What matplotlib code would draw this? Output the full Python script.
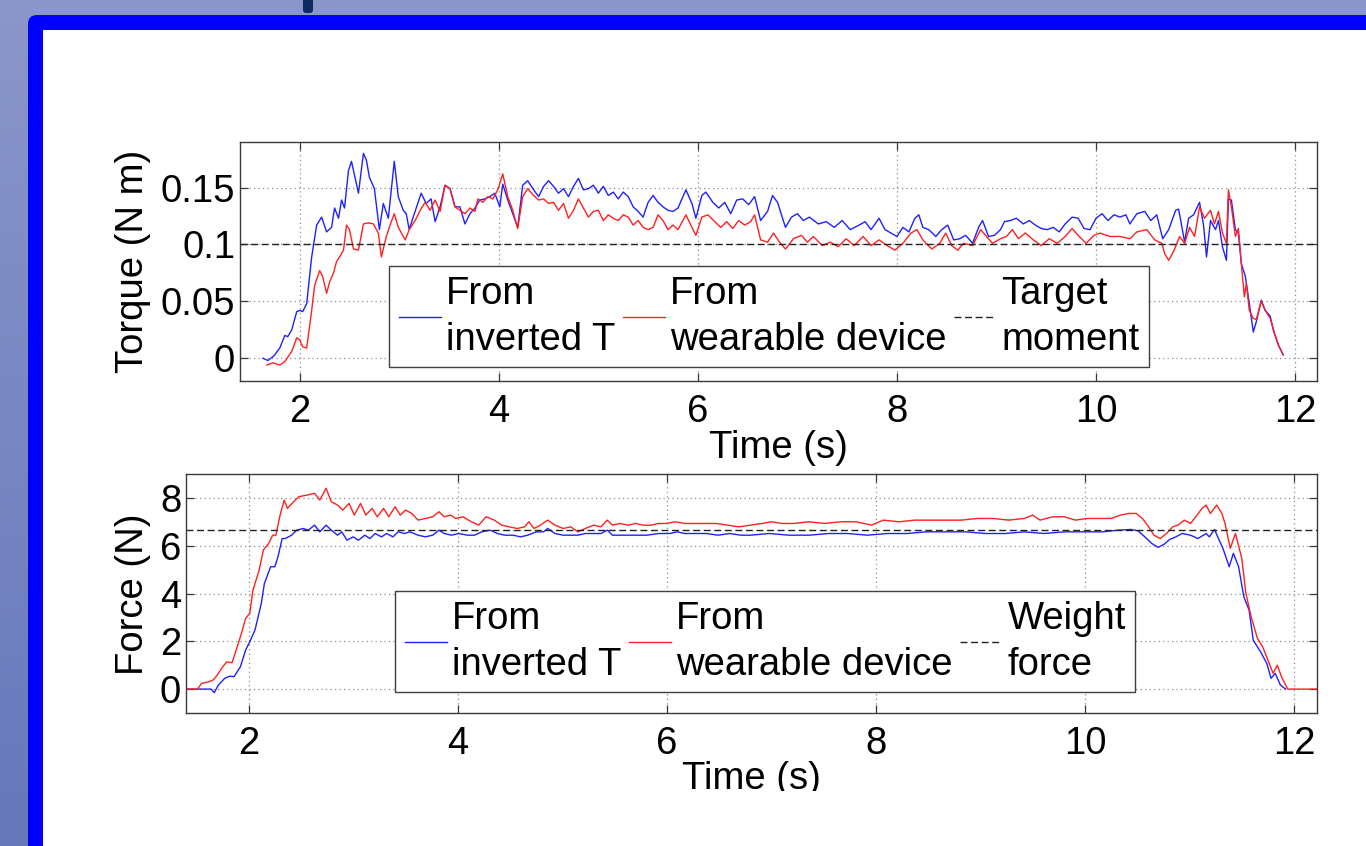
import numpy as np
import matplotlib
matplotlib.use("Agg")
import matplotlib.pyplot as plt
from matplotlib.patches import FancyBboxPatch, Rectangle
from matplotlib.lines import Line2D
from matplotlib.ticker import FuncFormatter
from matplotlib.transforms import Bbox, TransformedBbox

# ---------------- data ----------------
torque_inv_t = [1.63, 1.68, 1.74, 1.80, 1.85, 1.88, 1.92, 1.97, 2.00, 2.03, 2.07, 2.12, 2.17, 2.22, 2.27,
                2.32, 2.35, 2.39, 2.42, 2.45, 2.49, 2.52, 2.55, 2.59, 2.64, 2.67, 2.70, 2.75, 2.80, 2.84,
                2.89, 2.95, 2.99, 3.04, 3.07, 3.10, 3.14, 3.19, 3.22, 3.27, 3.32, 3.36, 3.41, 3.46, 3.51,
                3.56, 3.61, 3.66, 3.71, 3.76, 3.81, 3.86, 3.91, 3.96, 4.01, 4.04, 4.09, 4.14, 4.19, 4.24,
                4.29, 4.35, 4.40, 4.45, 4.50, 4.55, 4.60, 4.65, 4.70, 4.75, 4.80, 4.85, 4.90, 4.95, 5.00,
                5.05, 5.10, 5.15, 5.20, 5.25, 5.30, 5.35, 5.40, 5.45, 5.50, 5.55, 5.60, 5.65, 5.70, 5.75,
                5.80, 5.88, 5.94, 5.98, 6.04, 6.08, 6.15, 6.21, 6.27, 6.33, 6.39, 6.45, 6.51, 6.57, 6.63,
                6.70, 6.75, 6.80, 6.88, 6.94, 7.00, 7.06, 7.12, 7.21, 7.29, 7.37, 7.45, 7.53, 7.62, 7.68,
                7.74, 7.82, 7.88, 7.94, 8.00, 8.06, 8.12, 8.18, 8.22, 8.26, 8.32, 8.39, 8.45, 8.51, 8.57,
                8.63, 8.69, 8.76, 8.82, 8.86, 8.92, 8.98, 9.04, 9.08, 9.14, 9.20, 9.27, 9.33, 9.39, 9.45,
                9.51, 9.57, 9.63, 9.69, 9.76, 9.82, 9.88, 9.94, 10.00, 10.06, 10.12, 10.18, 10.24, 10.30,
                10.34, 10.41, 10.49, 10.55, 10.61, 10.67, 10.73, 10.80, 10.83, 10.89, 10.93, 10.98, 11.04,
                11.08, 11.11, 11.15, 11.20, 11.23, 11.27, 11.31, 11.33, 11.36, 11.40, 11.43, 11.46, 11.50,
                11.54, 11.58, 11.61, 11.66, 11.70, 11.75, 11.78, 11.83, 11.88]
torque_inv = [0.000, -0.002, 0.002, 0.009, 0.020, 0.019, 0.025, 0.041, 0.042, 0.041, 0.048, 0.089, 0.117, 0.124, 0.111,
              0.115, 0.132, 0.123, 0.139, 0.132, 0.165, 0.173, 0.161, 0.145, 0.180, 0.174, 0.159, 0.149, 0.113, 0.136,
              0.123, 0.173, 0.142, 0.130, 0.127, 0.113, 0.124, 0.137, 0.145, 0.136, 0.140, 0.120, 0.133, 0.152, 0.149,
              0.133, 0.133, 0.118, 0.127, 0.132, 0.139, 0.140, 0.142, 0.145, 0.133, 0.153, 0.139, 0.127, 0.115, 0.152,
              0.156, 0.148, 0.142, 0.151, 0.156, 0.151, 0.145, 0.149, 0.142, 0.151, 0.158, 0.148, 0.149, 0.152, 0.145,
              0.151, 0.143, 0.146, 0.140, 0.146, 0.142, 0.133, 0.129, 0.124, 0.137, 0.143, 0.137, 0.133, 0.130, 0.129,
              0.132, 0.148, 0.136, 0.123, 0.143, 0.146, 0.137, 0.132, 0.137, 0.127, 0.139, 0.140, 0.135, 0.142, 0.121,
              0.129, 0.143, 0.137, 0.115, 0.124, 0.127, 0.121, 0.124, 0.118, 0.120, 0.115, 0.121, 0.113, 0.117, 0.120,
              0.113, 0.123, 0.113, 0.110, 0.107, 0.115, 0.111, 0.123, 0.126, 0.115, 0.113, 0.107, 0.113, 0.117, 0.104,
              0.105, 0.108, 0.101, 0.115, 0.121, 0.107, 0.108, 0.113, 0.120, 0.121, 0.123, 0.118, 0.121, 0.117, 0.114,
              0.113, 0.115, 0.111, 0.118, 0.124, 0.123, 0.114, 0.113, 0.123, 0.127, 0.121, 0.126, 0.124, 0.126,
              0.118, 0.127, 0.129, 0.121, 0.126, 0.105, 0.113, 0.130, 0.131, 0.102, 0.123, 0.126, 0.137,
              0.117, 0.089, 0.121, 0.113, 0.121, 0.098, 0.086, 0.140, 0.139, 0.113, 0.110, 0.083, 0.072,
              0.048, 0.023, 0.032, 0.051, 0.042, 0.037, 0.025, 0.012, 0.003]

torque_wear_t = [1.67, 1.73, 1.80, 1.85, 1.88, 1.92, 1.97, 2.00, 2.03, 2.07, 2.12, 2.15, 2.20, 2.23, 2.27,
                 2.30, 2.34, 2.37, 2.40, 2.44, 2.47, 2.50, 2.54, 2.59, 2.64, 2.69, 2.74, 2.79, 2.82, 2.87,
                 2.92, 2.95, 2.99, 3.06, 3.10, 3.16, 3.21, 3.26, 3.31, 3.36, 3.41, 3.46, 3.51, 3.56, 3.61,
                 3.66, 3.71, 3.76, 3.79, 3.84, 3.89, 3.94, 3.99, 4.04, 4.09, 4.14, 4.19, 4.24, 4.29, 4.35,
                 4.40, 4.45, 4.50, 4.55, 4.60, 4.65, 4.70, 4.75, 4.80, 4.85, 4.90, 4.95, 5.00, 5.05, 5.10,
                 5.15, 5.20, 5.25, 5.30, 5.35, 5.40, 5.45, 5.50, 5.55, 5.60, 5.65, 5.70, 5.75, 5.80, 5.88,
                 5.94, 5.98, 6.04, 6.10, 6.17, 6.23, 6.29, 6.35, 6.41, 6.47, 6.53, 6.57, 6.63, 6.70, 6.76,
                 6.82, 6.88, 6.96, 7.04, 7.10, 7.16, 7.25, 7.33, 7.41, 7.49, 7.57, 7.66, 7.74, 7.82, 7.90,
                 7.98, 8.06, 8.14, 8.20, 8.26, 8.35, 8.43, 8.49, 8.55, 8.61, 8.67, 8.76, 8.84, 8.90, 8.96,
                 9.04, 9.10, 9.16, 9.22, 9.29, 9.37, 9.45, 9.53, 9.61, 9.69, 9.76, 9.82, 9.90, 9.98, 10.04,
                 10.14, 10.24, 10.34, 10.41, 10.51, 10.59, 10.66, 10.69, 10.73, 10.78, 10.84, 10.89, 10.94,
                 10.99, 11.04, 11.09, 11.15, 11.19, 11.23, 11.27, 11.31, 11.33, 11.36, 11.40, 11.43, 11.46,
                 11.49, 11.51, 11.54, 11.58, 11.61, 11.66, 11.70, 11.75, 11.80, 11.84, 11.88]
torque_wear = [-0.006, -0.004, -0.006, -0.003, 0.001, 0.006, 0.018, 0.016, 0.010, 0.009, 0.042, 0.064, 0.077, 0.072, 0.057,
               0.067, 0.075, 0.085, 0.089, 0.095, 0.117, 0.113, 0.096, 0.095, 0.118, 0.119, 0.118, 0.110, 0.089, 0.107,
               0.120, 0.127, 0.115, 0.104, 0.113, 0.121, 0.130, 0.137, 0.130, 0.139, 0.129, 0.152, 0.149, 0.133, 0.130,
               0.127, 0.132, 0.129, 0.140, 0.137, 0.142, 0.140, 0.148, 0.162, 0.142, 0.130, 0.114, 0.142, 0.149, 0.143,
               0.139, 0.140, 0.136, 0.137, 0.130, 0.136, 0.123, 0.130, 0.140, 0.132, 0.124, 0.129, 0.130, 0.121, 0.126,
               0.123, 0.121, 0.126, 0.124, 0.117, 0.121, 0.115, 0.113, 0.115, 0.126, 0.121, 0.113, 0.117, 0.113, 0.126,
               0.115, 0.108, 0.124, 0.126, 0.120, 0.115, 0.120, 0.114, 0.121, 0.117, 0.120, 0.126, 0.104, 0.102, 0.110,
               0.102, 0.096, 0.105, 0.108, 0.102, 0.107, 0.099, 0.102, 0.098, 0.105, 0.099, 0.107, 0.099, 0.104, 0.099,
               0.095, 0.101, 0.110, 0.113, 0.104, 0.096, 0.101, 0.110, 0.099, 0.095, 0.101, 0.099, 0.113, 0.107, 0.101,
               0.105, 0.107, 0.113, 0.105, 0.110, 0.104, 0.099, 0.105, 0.101, 0.107, 0.114, 0.108, 0.101, 0.108, 0.110,
               0.107, 0.107, 0.105, 0.111, 0.113, 0.104, 0.101, 0.092, 0.086, 0.094, 0.107, 0.101, 0.115,
               0.107, 0.133, 0.123, 0.130, 0.118, 0.129, 0.110, 0.101, 0.148, 0.133, 0.107, 0.114, 0.083,
               0.054, 0.066, 0.042, 0.035, 0.034, 0.050, 0.042, 0.035, 0.020, 0.010, 0.003]

force_inv_t = [1.40, 1.64, 1.67, 1.71, 1.77, 1.82, 1.86, 1.92, 1.97, 2.01, 2.06, 2.12, 2.15, 2.21, 2.25,
               2.28, 2.32, 2.35, 2.41, 2.46, 2.52, 2.57, 2.63, 2.68, 2.74, 2.79, 2.85, 2.89, 2.94, 3.00,
               3.05, 3.11, 3.16, 3.21, 3.27, 3.32, 3.38, 3.43, 3.49, 3.54, 3.62, 3.69, 3.76, 3.82, 3.87,
               3.94, 4.01, 4.09, 4.16, 4.23, 4.31, 4.38, 4.45, 4.53, 4.60, 4.67, 4.75, 4.82, 4.86, 4.93,
               5.01, 5.08, 5.15, 5.22, 5.30, 5.37, 5.43, 5.48, 5.59, 5.70, 5.81, 5.92, 6.03, 6.10, 6.17,
               6.28, 6.38, 6.49, 6.60, 6.71, 6.80, 6.98, 7.17, 7.36, 7.55, 7.73, 7.92, 8.11, 8.30, 8.48,
               8.67, 8.86, 9.05, 9.24, 9.42, 9.61, 9.80, 9.99, 10.17, 10.32, 10.44, 10.51, 10.59, 10.64,
               10.70, 10.76, 10.81, 10.87, 10.93, 11.01, 11.08, 11.16, 11.19, 11.24, 11.27, 11.32, 11.38,
               11.42, 11.47, 11.52, 11.57, 11.61, 11.68, 11.74, 11.78, 11.82, 11.87, 11.92]
force_inv = [0.00, 0.00, -0.15, 0.17, 0.45, 0.54, 0.52, 0.93, 1.63, 1.98, 2.47, 3.58, 4.42, 5.12, 5.12,
             5.54, 6.30, 6.30, 6.44, 6.65, 6.72, 6.65, 6.86, 6.58, 6.86, 6.65, 6.44, 6.58, 6.23, 6.37,
             6.23, 6.44, 6.30, 6.51, 6.37, 6.51, 6.37, 6.58, 6.51, 6.58, 6.44, 6.37, 6.44, 6.65, 6.51,
             6.44, 6.51, 6.44, 6.44, 6.58, 6.65, 6.51, 6.44, 6.44, 6.37, 6.44, 6.58, 6.58, 6.72, 6.51,
             6.44, 6.44, 6.44, 6.51, 6.51, 6.51, 6.65, 6.44, 6.44, 6.44, 6.44, 6.51, 6.51, 6.58, 6.51,
             6.51, 6.51, 6.44, 6.51, 6.44, 6.44, 6.51, 6.44, 6.44, 6.51, 6.51, 6.44, 6.51, 6.51, 6.58,
             6.58, 6.58, 6.51, 6.51, 6.58, 6.51, 6.58, 6.58, 6.58, 6.65, 6.68, 6.62, 6.30, 6.09,
             5.93, 6.07, 6.26, 6.37, 6.51, 6.44, 6.30, 6.51, 6.37, 6.68, 6.37, 5.89, 5.12,
             5.68, 5.12, 3.86, 3.31, 2.05, 1.56, 1.07, 0.45, 0.66, 0.17, 0.00]

force_wear_t = [1.40, 1.51, 1.55, 1.62, 1.66, 1.70, 1.75, 1.79, 1.84, 1.89, 1.93, 1.97, 2.01, 2.04, 2.10,
                2.14, 2.19, 2.23, 2.26, 2.30, 2.34, 2.37, 2.43, 2.48, 2.56, 2.63, 2.68, 2.74, 2.79, 2.85,
                2.90, 2.96, 3.01, 3.07, 3.12, 3.18, 3.23, 3.29, 3.34, 3.40, 3.45, 3.50, 3.56, 3.62, 3.69,
                3.76, 3.82, 3.87, 3.93, 3.98, 4.05, 4.13, 4.20, 4.27, 4.35, 4.42, 4.49, 4.57, 4.64, 4.68,
                4.73, 4.79, 4.86, 4.93, 5.01, 5.08, 5.15, 5.22, 5.30, 5.37, 5.43, 5.48, 5.55, 5.63, 5.70,
                5.77, 5.85, 5.92, 5.99, 6.08, 6.17, 6.26, 6.36, 6.47, 6.58, 6.69, 6.80, 6.91, 7.00, 7.10,
                7.21, 7.36, 7.51, 7.66, 7.81, 7.96, 8.07, 8.22, 8.37, 8.52, 8.67, 8.82, 8.97, 9.12, 9.27,
                9.42, 9.50, 9.57, 9.69, 9.80, 9.91, 10.02, 10.14, 10.25, 10.34, 10.42, 10.49, 10.55, 10.61,
                10.66, 10.72, 10.78, 10.84, 10.89, 10.95, 11.01, 11.06, 11.12, 11.16, 11.20, 11.26, 11.31,
                11.34, 11.39, 11.44, 11.50, 11.54, 11.59, 11.65, 11.70, 11.75, 11.80, 11.84, 11.88, 11.94,
                12.22]
force_wear = [0.00, 0.00, 0.24, 0.31, 0.38, 0.59, 0.93, 1.14, 1.10, 1.77, 2.33, 2.96, 3.17, 4.14, 4.98,
              5.82, 6.09, 6.44, 6.44, 7.28, 7.91, 7.56, 7.84, 8.05, 8.12, 8.19, 7.91, 8.40, 7.84, 7.70,
              7.49, 7.77, 7.28, 7.77, 7.28, 7.56, 7.21, 7.56, 7.21, 7.63, 7.28, 7.49, 7.35, 7.07, 7.14,
              7.21, 7.42, 7.21, 7.28, 7.14, 7.21, 7.00, 6.86, 7.21, 7.07, 6.86, 6.79, 6.72, 6.79, 7.00,
              6.72, 6.86, 7.07, 6.86, 6.72, 6.79, 6.58, 6.72, 6.86, 6.79, 7.07, 6.86, 6.93, 6.86, 6.93,
              6.86, 6.86, 6.93, 6.93, 7.00, 6.93, 6.93, 6.93, 6.93, 6.86, 6.79, 6.86, 6.93, 7.00, 6.93,
              6.93, 7.00, 6.93, 7.00, 7.00, 6.86, 7.07, 7.00, 7.07, 7.07, 7.07, 7.07, 7.14, 7.14, 7.07,
              7.14, 7.28, 7.07, 7.21, 7.21, 7.07, 7.14, 7.14, 7.14, 7.28, 7.35, 7.35, 7.14, 6.79,
              6.44, 6.30, 6.51, 6.79, 6.86, 7.07, 6.93, 7.21, 7.56, 7.70, 7.35, 7.70, 7.35,
              6.93, 5.89, 6.51, 5.47, 4.00, 3.03, 2.12, 1.77, 1.21, 0.66, 1.00, 0.52, 0.00,
              0.00]

target_moment = 0.1
weight_force = 6.67

x_ticks = [2, 4, 6, 8, 10, 12]
torque_ticks = [0, 0.05, 0.1, 0.15]
force_ticks = [0, 2, 4, 6, 8]

labels_top = ["From\ninverted T", "From\nwearable device", "Target\nmoment"]
labels_bot = ["From\ninverted T", "From\nwearable device", "Weight\nforce"]

# ---------------- style ----------------
W, H = 1366, 846
FS = 27.5
FONT = "Liberation Sans"
plt.rcParams["font.family"] = [FONT, "DejaVu Sans"]
plt.rcParams["font.size"] = FS

BLUE = "#2020ff"
RED = "#ff2020"
SPINE = "#3a3a3a"

fig = plt.figure(figsize=(W / 100, H / 100), dpi=100)

# slide background
bg = fig.add_axes([0, 0, 1, 1], zorder=-10)
bg.set_xlim(0, W)
bg.set_ylim(H, 0)
bg.axis("off")
top_c = np.array([0x8b, 0x97, 0xc9]) / 255.0
bot_c = np.array([0x67, 0x77, 0xba]) / 255.0
grad = np.linspace(0, 1, 256)[:, None, None] * (bot_c - top_c) + top_c
grad = np.repeat(grad, 2, axis=1)
bg.imshow(grad, extent=(0, W, H, 0), aspect="auto", zorder=0)
bg.add_patch(FancyBboxPatch((28, 15), 2000, 2000, boxstyle="round,pad=0,rounding_size=9",
                            fc="#0000ff", ec="none", zorder=1))
bg.add_patch(Rectangle((43, 30), 2000, 2000, fc="white", ec="none", zorder=2))
bg.add_patch(FancyBboxPatch((303, -10), 10, 23, boxstyle="round,pad=0,rounding_size=3",
                            fc="#0b2a5e", ec="none", zorder=3))


def px_rect(l, t, r, b):
    return [l / W, 1 - b / H, (r - l) / W, (b - t) / H]


ax1 = fig.add_axes(px_rect(240, 142, 1317, 381))
ax2 = fig.add_axes(px_rect(186, 474, 1317, 713))

fmt = FuncFormatter(lambda v, p: "%g" % v)

for ax in (ax1, ax2):
    ax.set_xlim(1.4, 12.22)
    ax.set_xticks(x_ticks)
    ax.xaxis.set_major_formatter(fmt)
    ax.yaxis.set_major_formatter(fmt)
    ax.grid(True, linestyle=(0, (1, 2.6)), color="#8c8c8c", linewidth=0.9)
    ax.tick_params(direction="in", length=6, width=0.9, color=SPINE, top=True, right=True,
                   labelsize=FS, labelcolor="black")
    ax.tick_params(axis="x", pad=9.5)
    ax.tick_params(axis="y", pad=3.5)
    for s in ax.spines.values():
        s.set_color(SPINE)
        s.set_linewidth(1.0)

ax1.set_ylim(-0.02, 0.19)
ax1.set_yticks(torque_ticks)
ax2.set_ylim(-1, 9)
ax2.set_yticks(force_ticks)

l1, = ax1.plot(torque_inv_t, torque_inv, color=BLUE, lw=1.0)
l2, = ax1.plot(torque_wear_t, torque_wear, color=RED, lw=1.0)
l3 = ax1.axhline(target_moment, color="#222222", lw=1.0, dashes=(5, 2.6))

m1, = ax2.plot(force_inv_t, force_inv, color=BLUE, lw=1.0)
m2, = ax2.plot(force_wear_t, force_wear, color=RED, lw=1.0)
m3 = ax2.axhline(weight_force, color="#222222", lw=1.0, dashes=(5, 2.6))


def make_legend(ax, handles, labels, left, top):
    leg = ax.legend(handles, labels, ncol=3, loc="upper left",
                    bbox_to_anchor=(left / W, 1 - top / H), bbox_transform=fig.transFigure,
                    borderaxespad=0, handlelength=1.1, handletextpad=0.15, columnspacing=0.18,
                    borderpad=0.25, fancybox=False, framealpha=1, edgecolor="#404040",
                    fontsize=FS, labelspacing=0.2)
    leg.get_frame().set_linewidth(1.0)
    for t in leg.get_texts():
        t.set_linespacing(1.36)
    return leg


make_legend(ax1, [l1, l2, l3], labels_top, 389, 266)
make_legend(ax2, [m1, m2, m3], labels_bot, 395, 591)

# axis labels
fig.text(133 / W, 1 - 261.5 / H, "Torque (N m)", rotation=90, ha="center", va="center", fontsize=FS)
fig.text(133 / W, 1 - 594 / H, "Force (N)", rotation=90, ha="center", va="center", fontsize=FS)
fig.text(778.5 / W, 1 - 458 / H, "Time (s)", ha="center", va="baseline", fontsize=FS)
tb = fig.text(751.5 / W, 1 - 789 / H, "Time (s)", ha="center", va="baseline", fontsize=FS)
tb.set_clip_on(True)
tb.set_clip_box(TransformedBbox(Bbox([[0, 1 - 791 / H], [1, 1]]), fig.transFigure))

fig.savefig("out.png", dpi=100)
